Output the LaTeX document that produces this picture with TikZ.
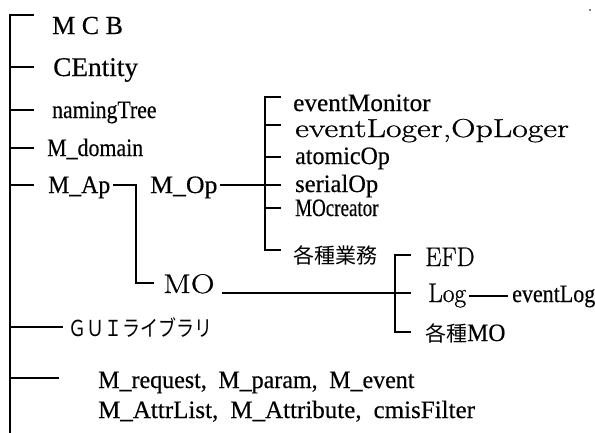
\documentclass[tikz,border=0pt]{standalone}
\usepackage{fontspec}
\newfontfamily\tnr[FakeBold=0.4]{Liberation Serif}
\newfontfamily\lmb[FakeBold=0.8]{Latin Modern Roman}
\newfontfamily\cjk{Noto Sans CJK JP}
\newcommand{\sx}[2]{\scalebox{#1}[1]{#2}}
\tikzset{
  lbl/.style={anchor=base west, inner sep=0pt, font=\tnr\fontsize{25}{25}\selectfont},
  big/.style={anchor=base west, inner sep=0pt, font=\lmb\fontsize{27}{27}\selectfont},
  jp/.style={anchor=base west, inner sep=0pt, font=\cjk\fontsize{21}{21}\selectfont},
  ln/.style={line width=1.3pt, line cap=rect},
}
\begin{document}
\begin{tikzpicture}[x=1pt,y=-1pt]
\useasboundingbox (0,0) rectangle (595,432);
% texts
\node[lbl,font=\tnr\fontsize{26}{26}\selectfont] (mcb) at (52,34) {M C B};
\node[lbl,font=\tnr\fontsize{27}{27}\selectfont] (cent) at (53,76) {\sx{1.01}{CEntity}};
\node[lbl] (ntree) at (52,118) {\sx{0.87}{namingTree}};
\node[lbl] (mdom) at (47,156) {\sx{0.875}{M\_domain}};
\node[lbl] (map) at (48,193) {\sx{0.95}{M\_Ap}};
\node[lbl] (mop) at (150,193) {\sx{1.03}{M\_Op}};
\node[lbl] (evmon) at (293,111) {\sx{1.01}{eventMonitor}};
\node[big,font=\lmb\fontsize{26}{26}\selectfont] (evlog) at (295,137) {\sx{1.30}{eventLoger,OpLoger}};
\node[lbl] (atom) at (295,164) {\sx{0.96}{atomicOp}};
\node[lbl] (ser) at (295,192) {\sx{0.98}{serialOp}};
\node[lbl] (moc) at (295,216) {\sx{0.76}{MOcreator}};
\node[jp] (gyomu) at (293,263) {各種業務};
\node[big] (mo) at (163,293) {\sx{1.21}{MO}};
\node[big] (efd) at (425,266) {\sx{0.945}{EFD}};
\node[big] (log) at (428,302) {\sx{0.94}{Log}};
\node[lbl] (elog) at (512,302) {\sx{0.88}{eventLog}};
\node[jp] (kmo) at (425,341) {各種{\tnr\fontsize{25}{25}\selectfont\sx{0.95}{MO}}};
\node[jp,font=\cjk\fontsize{22}{22}\selectfont] (gui) at (68,336) {\sx{0.82}{ＧＵＩライブラリ}};
\node[lbl] (mreq) at (98,388) {\sx{0.96}{M\_request,\hspace{12pt}M\_param,\hspace{12pt}M\_event}};
\node[lbl] (mattr) at (98,418) {\sx{1.0}{M\_AttrList,\hspace{12pt}M\_Attribute,\hspace{12pt}cmisFilter}};
% main trunk
\coordinate (trtop) at (10,15);
\coordinate (trbot) at (10,432);
\coordinate (b2) at (10,67);
\coordinate (b3) at (10,110);
\coordinate (b4) at (10,148);
\coordinate (b5) at (10,185);
\coordinate (b6) at (10,327);
\coordinate (b7) at (10,378);
\draw[ln] (trbot) -- (trtop) -- (33,15);
\draw[ln] (b2) -- (b2 -| cent.west) [shorten >=20pt];
\draw[ln] (b3) -- (b3 -| ntree.west) [shorten >=19pt];
\draw[ln] (b4) -- (b4 -| mdom.west) [shorten >=14pt];
\draw[ln] (b5) -- (b5 -| map.west) [shorten >=15pt];
\draw[ln] (b6) -- (b6 -| gui.west) [shorten >=6pt];
\draw[ln] (b7) -- (b7 -| mreq.west) [shorten >=40pt];
% M_Ap -> M_Op / MO
\coordinate (apk) at (136,185);
\coordinate (apd) at (136,283);
\draw[ln] (apk -| map.east) [shorten <=3pt] -- (apk) -- (apd) -- (apd -| mo.west) [shorten >=10pt];
% M_Op bracket
\coordinate (opt) at (265,97);
\coordinate (opb) at (265,250);
\draw[ln] (mop.east |- apk) [shorten <=3pt] -- (280,185);
\draw[ln] (280,97) -- (opt) -- (opb) -- (280,250);
\draw[ln] (265,125) -- (280,125);
\draw[ln] (265,157) -- (280,157);
\draw[ln] (265,208) -- (280,208);
% MO bracket
\coordinate (mot) at (395,255);
\coordinate (mob) at (395,332);
\draw[ln] (mo.east |- 0,293) [shorten <=8pt] -- (410,293);
\draw[ln] (410,255) -- (mot) -- (mob) -- (410,332);
% Log -- eventLog
\draw[ln] (log.east |- 0,296) [shorten <=3pt] -- (elog.west |- 0,296) [shorten >=5pt];
% scan dot
\fill (590,10) circle (0.9);
\end{tikzpicture}
\end{document}
